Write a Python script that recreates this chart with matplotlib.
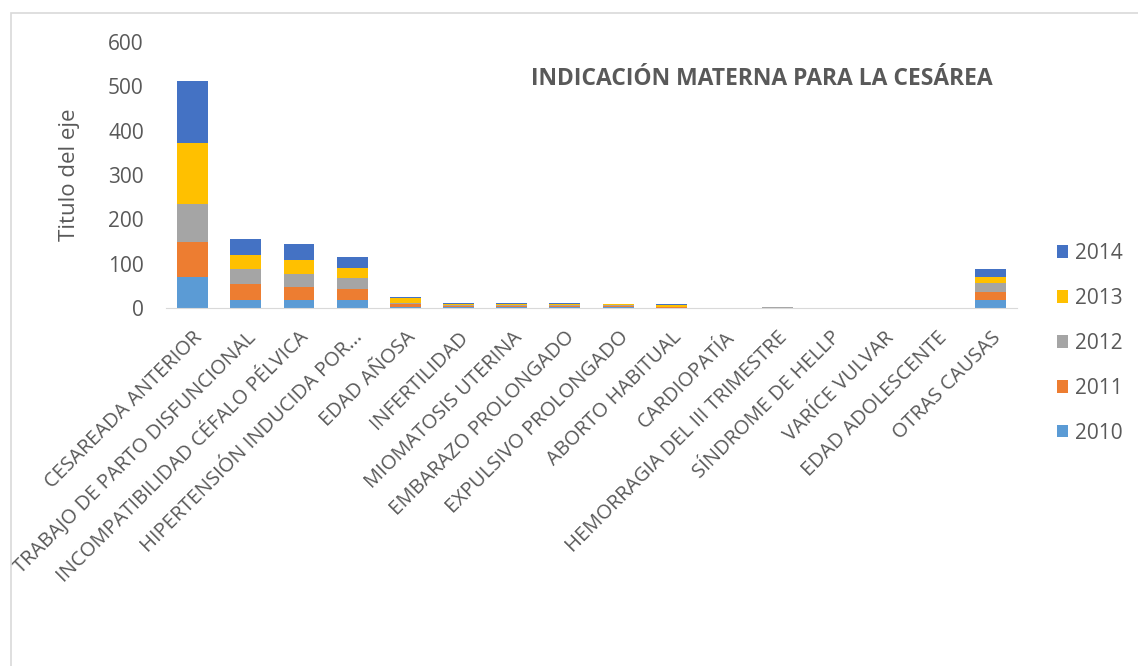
import matplotlib.pyplot as plt
import numpy as np
from matplotlib.patches import Rectangle

plt.rcParams['font.family'] = ['Open Sans', 'DejaVu Sans']

categories = ['CESAREADA ANTERIOR', 'TRABAJO DE PARTO DISFUNCIONAL',
              'INCOMPATIBILIDAD CÉFALO PÉLVICA', 'HIPERTENSIÓN INDUCIDA POR...',
              'EDAD AÑOSA', 'INFERTILIDAD', 'MIOMATOSIS UTERINA',
              'EMBARAZO PROLONGADO', 'EXPULSIVO PROLONGADO', 'ABORTO HABITUAL',
              'CARDIOPATÍA', 'HEMORRAGIA DEL III TRIMESTRE', 'SÍNDROME DE HELLP',
              'VARÍCE VULVAR', 'EDAD ADOLESCENTE', 'OTRAS CAUSAS']
years = ['2010', '2011', '2012', '2013', '2014']
v2010 = [71, 17, 17, 18, 3, 2, 2, 3, 2, 1, 0, 1, 0, 0, 0, 18]
v2011 = [79, 37, 30, 24, 6, 2, 2, 2, 2, 1, 0, 0, 0, 0, 0, 19]
v2012 = [85, 33, 29, 25, 3, 3, 3, 2, 3, 1, 0, 1, 0, 0, 0, 19]
v2013 = [137, 33, 32, 23, 10, 3, 2, 2, 2, 4, 1, 0, 0, 0, 0, 15]
v2014 = [139, 36, 36, 26, 3, 2, 3, 3, 1, 1, 0, 1, 0, 0, 0, 16]
colors = ['#5B9BD5', '#ED7D31', '#A5A5A5', '#FFC000', '#4472C4']

txt = '#595959'
fig = plt.figure(figsize=(11.38, 6.66), dpi=100)
# chart border (partly cut in the original)
fig.patches.append(Rectangle((11 / 1138, -0.1), 1.2, 1.1 - 13 / 666,
                             transform=fig.transFigure, fill=False,
                             edgecolor='#D9D9D9', linewidth=1.2))
ax = fig.add_axes([166 / 1138, 1 - 308 / 666, 851 / 1138, 266 / 666])

x = np.arange(len(categories))
bottom = np.zeros(len(categories))
handles = []
for yr, vals, c in zip(years, [v2010, v2011, v2012, v2013, v2014], colors):
    h = ax.bar(x, vals, 0.58, bottom=bottom, color=c, label=yr)
    handles.append(h)
    bottom += np.array(vals)

ax.set_xlim(-0.5, len(categories) - 0.5)
ax.set_ylim(0, 600)
ax.set_yticks(range(0, 601, 100))
ax.tick_params(axis='y', length=0, labelsize=15, labelcolor=txt, pad=16)
ax.tick_params(axis='x', length=0, pad=14)
ax.set_xticks(x)
ax.set_xticklabels(categories, rotation=45, ha='right', rotation_mode='anchor',
                   fontsize=14.5, color=txt)
for s in ['top', 'right', 'left']:
    ax.spines[s].set_visible(False)
ax.spines['bottom'].set_color('#D9D9D9')
ax.set_ylabel('Titulo del eje', fontsize=16, color=txt, labelpad=20)

ax.text(0.70, 0.86, 'INDICACIÓN MATERNA PARA LA CESÁREA', transform=ax.transAxes,
        ha='center', va='center', fontsize=16.5, fontweight='bold', color=txt)

leg = fig.legend(handles[::-1], years[::-1], loc='upper left',
                 bbox_to_anchor=(1038 / 1138, 1 - 224 / 666), frameon=False,
                 fontsize=15, labelcolor=txt, handlelength=0.55, handleheight=0.55,
                 handletextpad=0.35, labelspacing=1.15)

fig.savefig('out.png', dpi=100)
